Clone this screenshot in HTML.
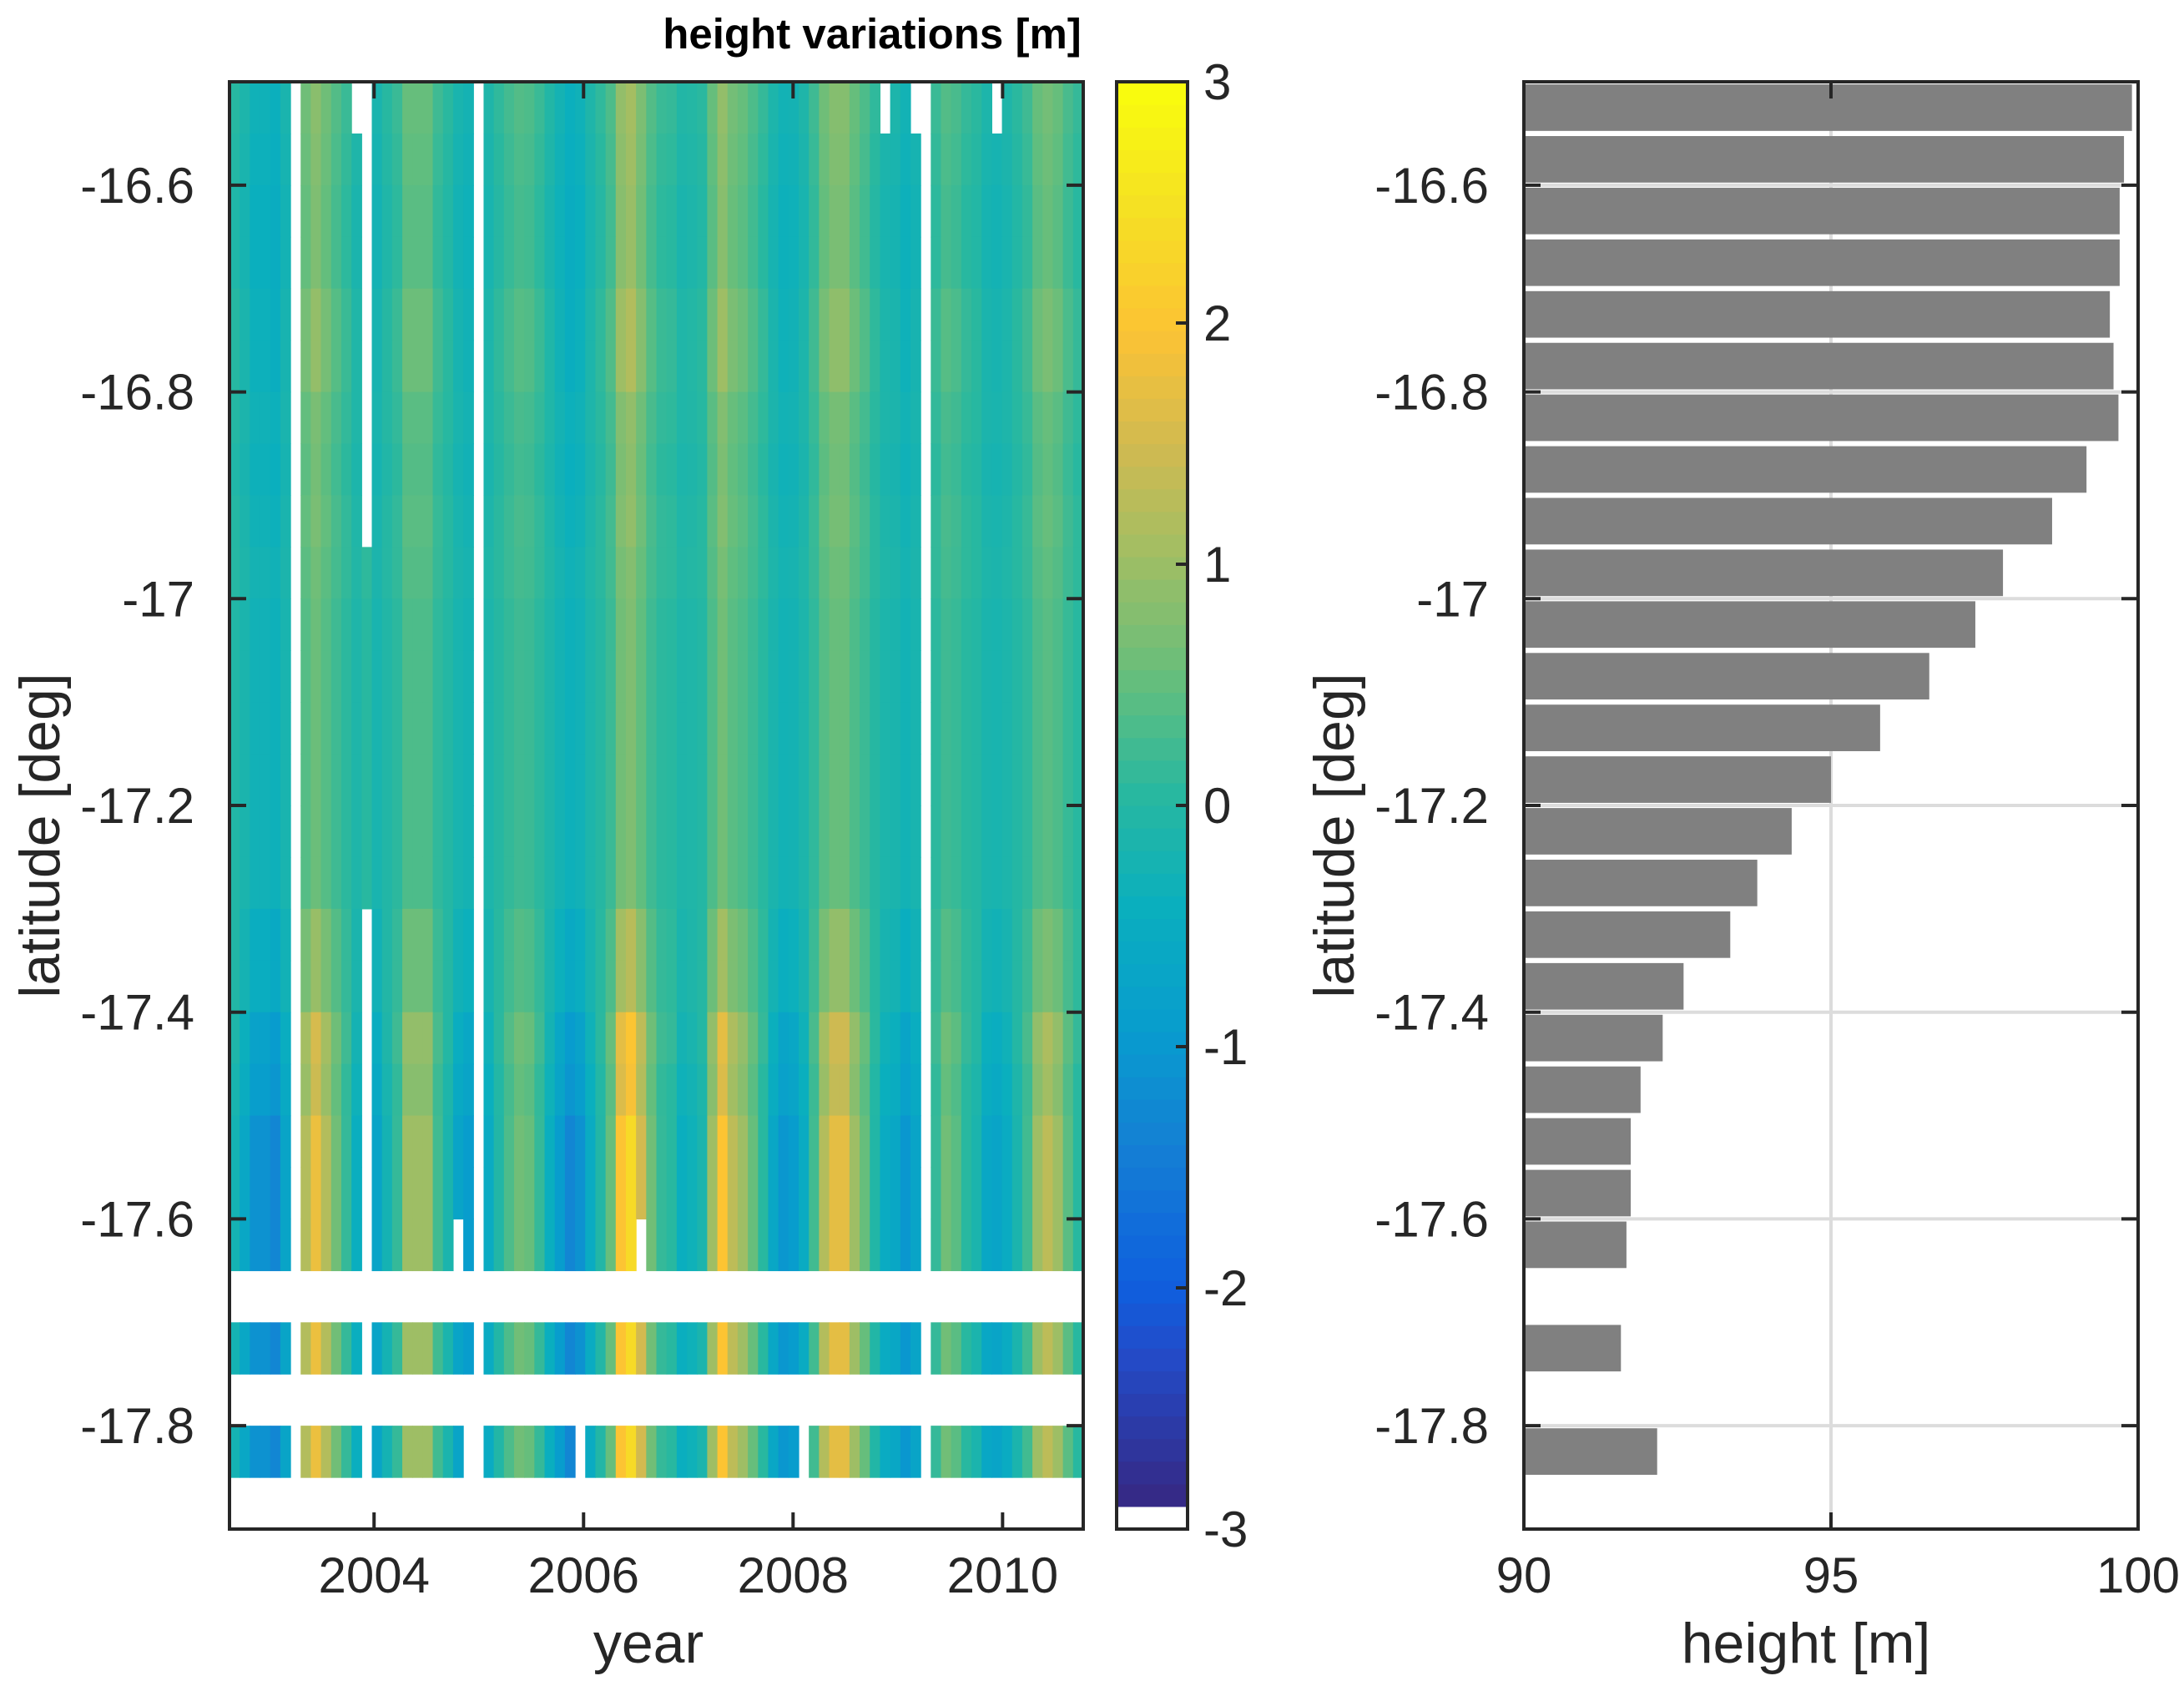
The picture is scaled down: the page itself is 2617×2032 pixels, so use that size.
<!DOCTYPE html>
<html><head><meta charset="utf-8"><style>
html,body{margin:0;padding:0;background:#fff;}
svg text{font-family:"Liberation Sans",Arial,sans-serif;fill:#262626;}
</style></head>
<body>
<svg id="fig" width="2617" height="2027" viewBox="0 0 2617 2027" xmlns="http://www.w3.org/2000/svg">
<rect width="2617" height="2027" fill="#fff"/>
<g id="heat"></g>
<g id="hax"></g>
<g id="cbar"></g>
<g id="bars"></g>
<text x="1045" y="58" font-size="51" font-weight="bold" text-anchor="middle" style="fill:#000">height variations [m]</text>
<text x="777" y="1992" font-size="68" text-anchor="middle">year</text>
<text transform="translate(71,1001) rotate(-90)" font-size="68" text-anchor="middle">latitude [deg]</text>
<text transform="translate(1622,1001) rotate(-90)" font-size="68" text-anchor="middle">latitude [deg]</text>
<text x="2164" y="1992" font-size="68" text-anchor="middle">height [m]</text>
</svg>
<script>
// ---- data ----
const yearStart = 2002.62;
const yearEnd = 2010.77;
const latTop = -16.5;
const latBottom = -17.9;
const latStep = 0.05;
const yearTicks = [2004, 2006, 2008, 2010];
const latTicks = [-16.6, -16.8, -17.0, -17.2, -17.4, -17.6, -17.8];
const latTickLabels = ["-16.6", "-16.8", "-17", "-17.2", "-17.4", "-17.6", "-17.8"];
const cbarTicks = [-3, -2, -1, 0, 1, 2, 3];
// per-cycle (column) anomaly signal, read left to right
const colSignal = [-0.3,-0.7,-1.2,-1.2,-1.4,-0.8,0,1.2,1.8,1.2,0.6,0.1,-0.5,0,-0.8,-0.3,0.1,1.0,1.0,1.0,0.2,-0.2,-0.8,-1.0,0,-0.6,-0.1,0.3,0.6,0.5,0.1,-0.5,-1.0,-1.4,-1.2,-0.6,-0.1,0.5,2.0,2.4,1.5,0.6,0.1,0,-0.5,-0.4,-0.2,1.0,2.0,1.3,1.0,0.5,0,-0.7,-1.1,-1.0,-0.6,0.2,1.2,1.7,1.7,1.0,0.5,-0.1,-0.6,-0.7,-1.1,-0.8,0,0.1,0.6,0.4,0,-0.2,-0.7,-0.8,-0.6,-0.2,0.2,1.0,1.3,1.0,0.4,0];
// per-latitude-row mean and seasonal amplitude (rows from -16.525 down)
const rowMean = [0.1,0.05,0.0,0.0,0.1,0.1,0.05,0.0,0.05,0.05,0.0,0.0,0.0,0.0,0.0,0.0,0.05,0.05,0.1,0.0,0.0,0.0,0.0,null,0.0,null,0.0,null];
const rowAmp  = [0.4,0.4,0.4,0.4,0.45,0.45,0.35,0.35,0.35,0.3,0.3,0.3,0.3,0.3,0.3,0.3,0.5,0.5,0.8,0.8,1.0,1.0,1.0,0,1.0,0,1.0,0];
// missing cells: [row, col]; missing full columns
const missingCols = [6, 24, 68];
const missingCells = [[0,12],[0,13],[1,13],[2,13],[3,13],[4,13],[5,13],[6,13],[7,13],[8,13],[16,13],[17,13],[18,13],[19,13],[20,13],[21,13],[22,13],[24,13],[26,13],[0,64],[0,67],[0,75],[22,22],[22,40],[26,23],[26,34],[26,56]];
// right panel: height per latitude row
const barLats = [-16.525,-16.575,-16.625,-16.675,-16.725,-16.775,-16.825,-16.875,-16.925,-16.975,-17.025,-17.075,-17.125,-17.175,-17.225,-17.275,-17.325,-17.375,-17.425,-17.475,-17.525,-17.575,-17.625,-17.725,-17.825];
const barHeights = [99.9,99.77,99.7,99.7,99.54,99.6,99.68,99.16,98.6,97.8,97.35,96.6,95.8,95.0,94.36,93.8,93.36,92.6,92.26,91.9,91.74,91.74,91.67,91.58,92.17];
const heightTicks = [90, 95, 100];

// ---- layout ----
const NS = "http://www.w3.org/2000/svg";
const L = {x0:275, x1:1298, y0:98, y1:1832};
const R = {x0:1826, x1:2562};
const CB = {x0:1338, x1:1423};
const xYear = v => L.x0 + (v - yearStart) / (yearEnd - yearStart) * (L.x1 - L.x0);
const yLat = v => L.y0 + (latTop - v) / (latTop - latBottom) * (L.y1 - L.y0);
const xH = v => R.x0 + (v - 90) / 10 * (R.x1 - R.x0);
const yC = v => L.y1 - (v + 3) / 6 * (L.y1 - L.y0);
function mk(tag, attrs, parent){const e=document.createElementNS(NS,tag);for(const k in attrs)e.setAttribute(k,attrs[k]);parent.appendChild(e);return e;}

const stops = [[0,53,42,135],[0.1,35,75,200],[0.15,15,95,222],[0.25,20,128,212],[0.33,8,156,206],[0.42,10,175,190],[0.5,40,184,160],[0.58,100,190,125],[0.67,160,190,100],[0.75,210,186,80],[0.83,252,195,52],[0.92,245,225,35],[1,249,251,14]];
function cmap(t){t=Math.max(0,Math.min(1,t));for(let i=1;i<stops.length;i++){if(t<=stops[i][0]){const a=stops[i-1],b=stops[i],f=(t-a[0])/(b[0]-a[0]);return `rgb(${Math.round(a[1]+f*(b[1]-a[1]))},${Math.round(a[2]+f*(b[2]-a[2]))},${Math.round(a[3]+f*(b[3]-a[3]))})`;}}return "rgb(249,251,14)";}
function valColor(v){if(v<-3+6/64)return "#ffffff";return cmap((v+3)/6);}

// ---- heatmap ----
const heat = document.getElementById('heat');
const nCols = colSignal.length;
const colW = (yearEnd - yearStart) / nCols;
const missSet = new Set(missingCells.map(c=>c[0]+"_"+c[1]));
for (let i=0;i<rowMean.length;i++){
  if (rowMean[i]===null) continue;
  const latT = latTop - i*latStep, latB = latTop-(i+1)*latStep;
  for (let j=0;j<nCols;j++){
    if (missingCols.includes(j) || missSet.has(i+"_"+j)) continue;
    const v = rowMean[i] + rowAmp[i]*colSignal[j];
    const x0 = xYear(yearStart + j*colW), x1 = xYear(yearStart+(j+1)*colW);
    const r = mk('rect',{x:x0.toFixed(2),y:yLat(latT).toFixed(2),width:(x1-x0+0.6).toFixed(2),height:(yLat(latB)-yLat(latT)+0.6).toFixed(2),fill:valColor(v)},heat);
    
    
  }
}
// ---- left axes ----
const hax = document.getElementById('hax');
mk('rect',{x:L.x0,y:L.y0,width:L.x1-L.x0,height:L.y1-L.y0,fill:'none',stroke:'#262626','stroke-width':4},hax);
yearTicks.forEach(t=>{
  const x=xYear(t);
  mk('line',{x1:x,y1:L.y1,x2:x,y2:L.y1-20,stroke:'#262626','stroke-width':4},hax);
  mk('line',{x1:x,y1:L.y0,x2:x,y2:L.y0+20,stroke:'#262626','stroke-width':4},hax);
  const tx=mk('text',{x:x,y:1908,'font-size':60,'text-anchor':'middle'},hax);tx.textContent=t;
  
  
});
latTicks.forEach((t,k)=>{
  const y=yLat(t);
  mk('line',{x1:L.x0,y1:y,x2:L.x0+20,y2:y,stroke:'#262626','stroke-width':4},hax);
  mk('line',{x1:L.x1,y1:y,x2:L.x1-20,y2:y,stroke:'#262626','stroke-width':4},hax);
  const tx=mk('text',{x:233,y:y+21,'font-size':60,'text-anchor':'end'},hax);tx.textContent=latTickLabels[k];
  
  
});
// ---- colorbar ----
const cb = document.getElementById('cbar');
const nC=64;
for(let k=0;k<nC;k++){
  const v0=-3+k*6/nC, v1=-3+(k+1)*6/nC;
  const col = k===0 ? '#ffffff' : cmap((k-1)/(nC-2));
  mk('rect',{x:CB.x0,y:yC(v1).toFixed(2),width:CB.x1-CB.x0,height:(yC(v0)-yC(v1)+0.6).toFixed(2),fill:col},cb);
}
mk('rect',{x:CB.x0,y:L.y0,width:CB.x1-CB.x0,height:L.y1-L.y0,fill:'none',stroke:'#262626','stroke-width':4},cb);
cbarTicks.forEach(t=>{
  const y=yC(t);
  mk('line',{x1:CB.x1,y1:y,x2:CB.x1-14,y2:y,stroke:'#262626','stroke-width':4},cb);
  const tx=mk('text',{x:1442,y:y+21,'font-size':60},cb);tx.textContent=t;
  
  
});
// ---- right bar chart ----
const bg = document.getElementById('bars');
latTicks.forEach(t=>{const y=yLat(t);mk('line',{x1:R.x0,y1:y,x2:R.x1,y2:y,stroke:'#dcdcdc','stroke-width':4},bg);});
mk('line',{x1:xH(95),y1:L.y0,x2:xH(95),y2:L.y1,stroke:'#dcdcdc','stroke-width':4},bg);
barLats.forEach((lat,k)=>{
  const yT=yLat(lat+0.0225), yB=yLat(lat-0.0225);
  const b=mk('rect',{x:xH(90),y:yT.toFixed(2),width:(xH(barHeights[k])-xH(90)).toFixed(2),height:(yB-yT).toFixed(2),fill:'#808080'},bg);
  
  
});
mk('rect',{x:R.x0,y:L.y0,width:R.x1-R.x0,height:L.y1-L.y0,fill:'none',stroke:'#262626','stroke-width':4},bg);
latTicks.forEach((t,k)=>{
  const y=yLat(t);
  mk('line',{x1:R.x0,y1:y,x2:R.x0+20,y2:y,stroke:'#262626','stroke-width':4},bg);
  mk('line',{x1:R.x1,y1:y,x2:R.x1-20,y2:y,stroke:'#262626','stroke-width':4},bg);
  const tx=mk('text',{x:1784,y:y+21,'font-size':60,'text-anchor':'end'},bg);tx.textContent=latTickLabels[k];
  
  
});
heightTicks.forEach(t=>{
  const x=xH(t);
  mk('line',{x1:x,y1:L.y1,x2:x,y2:L.y1-20,stroke:'#262626','stroke-width':4},bg);
  mk('line',{x1:x,y1:L.y0,x2:x,y2:L.y0+20,stroke:'#262626','stroke-width':4},bg);
  const tx=mk('text',{x:x,y:1908,'font-size':60,'text-anchor':'middle'},bg);tx.textContent=t;
  
  
});
</script>
</body></html>
